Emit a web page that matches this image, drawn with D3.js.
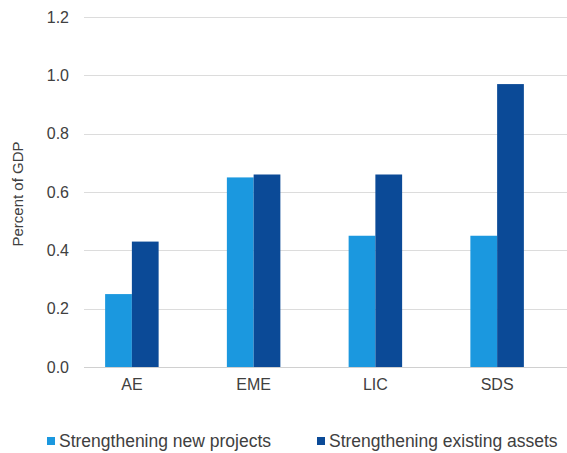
<!DOCTYPE html>
<html>
<head>
<meta charset="utf-8">
<script src="https://cdn.jsdelivr.net/npm/d3@7"></script>
<style>
  body { margin: 0; background: #fff; }
  svg text { font-family: "Liberation Sans", Arial, sans-serif; fill: #404040; }
</style>
</head>
<body>
<svg class="chart" width="567" height="453"></svg>
<script>
// data
var categories = ["AE", "EME", "LIC", "SDS"];
var seriesNames = ["Strengthening new projects", "Strengthening existing assets"];
var newProjects = [0.25, 0.65, 0.45, 0.45];
var existingAssets = [0.43, 0.66, 0.66, 0.97];
var yTicks = [0, 0.2, 0.4, 0.6, 0.8, 1.0, 1.2];
var colors = ["#1b98df", "#0b4a97"];

var svg = d3.select(".chart");
var gridLeft = 84, gridRight = 567;

var y = d3.scaleLinear().domain([0, 1.2]).range([367, 17]);
var x = d3.scaleBand().domain(categories).range([71, 558]).paddingInner(0).paddingOuter(0);
var xSeries = d3.scaleBand().domain(seriesNames).range([0, 53.5]);

// gridlines
svg.append("g")
  .selectAll("line")
  .data(yTicks)
  .enter()
  .append("line")
  .attr("x1", gridLeft)
  .attr("x2", gridRight)
  .attr("y1", function (d) { return Math.round(y(d)) + 0.5; })
  .attr("y2", function (d) { return Math.round(y(d)) + 0.5; })
  .attr("stroke", function (d) { return d === 0 ? "#d0d0d0" : "#dcdcdc"; })
  .attr("stroke-width", 1);

// y axis labels
var yAxis = d3.axisLeft(y).tickValues(yTicks).tickFormat(d3.format(".1f")).tickSize(0).tickPadding(0);
var gy = svg.append("g")
  .attr("transform", "translate(69,0)")
  .call(yAxis);
gy.select(".domain").remove();
gy.selectAll("text")
  .attr("font-size", 16)
  .attr("font-family", "Liberation Sans, Arial, sans-serif")
  .attr("fill", "#404040");

// bars
var rows = categories.map(function (c, i) {
  return { cat: c, values: [newProjects[i], existingAssets[i]] };
});

var groups = svg.append("g")
  .selectAll("g")
  .data(rows)
  .enter()
  .append("g")
  .attr("transform", function (d) { return "translate(" + (x(d.cat) + x.bandwidth() / 2 - xSeries.range()[1] / 2) + ",0)"; });

groups.selectAll("rect")
  .data(function (d) {
    return d.values.map(function (v, j) { return { name: seriesNames[j], value: v, idx: j }; });
  })
  .enter()
  .append("rect")
  .attr("x", function (d) { return xSeries(d.name); })
  .attr("width", xSeries.bandwidth())
  .attr("y", function (d) { return y(d.value); })
  .attr("height", function (d) { return y(0) - y(d.value); })
  .attr("fill", function (d) { return colors[d.idx]; });

// category labels
var xAxis = d3.axisBottom(x).tickSize(0).tickPadding(0);
var gx = svg.append("g")
  .attr("transform", "translate(0,379)")
  .call(xAxis);
gx.select(".domain").remove();
gx.selectAll("text")
  .attr("font-size", 16)
  .attr("font-family", "Liberation Sans, Arial, sans-serif")
  .attr("fill", "#404040");

// y axis title
svg.append("text")
  .attr("transform", "translate(23,194) rotate(-90)")
  .attr("text-anchor", "middle")
  .attr("font-size", 15)
  .text("Percent of GDP");

// legend
var legendX = [47, 317];
var legend = svg.append("g")
  .selectAll("g")
  .data(seriesNames)
  .enter()
  .append("g")
  .attr("transform", function (d, i) { return "translate(" + legendX[i] + ",437)"; });

legend.append("rect")
  .attr("x", 0)
  .attr("y", 0)
  .attr("width", 8)
  .attr("height", 8)
  .attr("fill", function (d, i) { return colors[i]; });

legend.append("text")
  .attr("x", 12)
  .attr("y", 10)
  .attr("font-size", 17.5)
  .text(function (d) { return d; });
</script>
</body>
</html>
